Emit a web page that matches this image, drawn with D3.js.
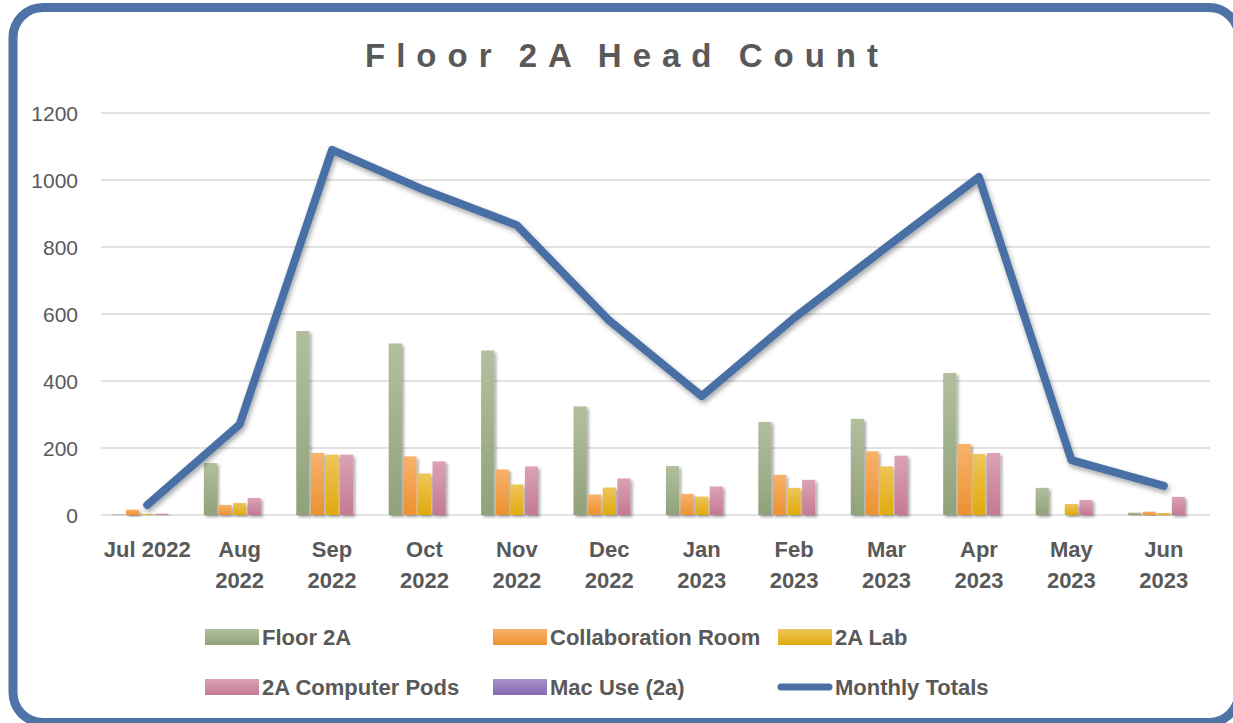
<!DOCTYPE html>
<html>
<head>
<meta charset="utf-8">
<script src="https://cdn.jsdelivr.net/npm/d3@7/dist/d3.min.js"></script>
<style>
  html, body { margin: 0; padding: 0; background: #ffffff; }
  svg { display: block; }
  text { font-family: "Liberation Sans", Arial, sans-serif; fill: #595959; }
</style>
</head>
<body>
<svg id="chart" width="1233" height="723"></svg>
<script>
// ---------------- data ----------------
const months = ["Jul 2022", "Aug 2022", "Sep 2022", "Oct 2022", "Nov 2022", "Dec 2022",
                "Jan 2023", "Feb 2023", "Mar 2023", "Apr 2023", "May 2023", "Jun 2023"];
const seriesNames = ["Floor 2A", "Collaboration Room", "2A Lab", "2A Computer Pods", "Mac Use (2a)"];
const floor2A       = [2, 155, 549, 512, 491, 324, 146, 278, 287, 424, 81, 7];
const collabRoom    = [16, 30, 185, 175, 136, 61, 63, 120, 190, 212, 0, 10];
const lab2A         = [3, 36, 180, 124, 91, 82, 55, 81, 145, 182, 33, 6];
const computerPods  = [4, 51, 180, 160, 145, 109, 85, 105, 177, 185, 45, 54];
const macUse        = [0, 0, 0, 0, 0, 0, 0, 0, 0, 0, 0, 0];
const monthlyTotals = [30, 270, 1090, 970, 865, 580, 355, 588, 800, 1009, 164, 87];
const yTicks = [0, 200, 400, 600, 800, 1000, 1200];
const lineName = "Monthly Totals";
const chartTitle = "Floor 2A Head Count";

const barSeries = [floor2A, collabRoom, lab2A, computerPods, macUse];
const colors = [
  ["#b2bf9e", "#90a27a"],
  ["#f8b26c", "#ec9130"],
  ["#eec55a", "#e0aa0c"],
  ["#dba3b3", "#c47993"],
  ["#a891cb", "#876ab0"]
];
const lineColor = "#4a70a5";

// ---------------- setup ----------------
const svg = d3.select("#chart");
const defs = svg.append("defs");

colors.forEach((c, i) => {
  const g = defs.append("linearGradient").attr("id", "grad" + i)
    .attr("x1", 0).attr("y1", 0).attr("x2", 0).attr("y2", 1);
  g.append("stop").attr("offset", "0%").attr("stop-color", c[0]);
  g.append("stop").attr("offset", "100%").attr("stop-color", c[1]);
});
const fs = defs.append("filter").attr("id", "shadow")
  .attr("x", "-50%").attr("y", "-20%").attr("width", "200%").attr("height", "140%");
fs.append("feDropShadow").attr("dx", 2).attr("dy", 2).attr("stdDeviation", 1.8)
  .attr("flood-color", "#000").attr("flood-opacity", 0.35);
const fl = defs.append("filter").attr("id", "lshadow")
  .attr("x", "-10%").attr("y", "-10%").attr("width", "120%").attr("height", "130%");
fl.append("feDropShadow").attr("dx", 1.5).attr("dy", 3).attr("stdDeviation", 2.5)
  .attr("flood-color", "#000").attr("flood-opacity", 0.35);

// border
svg.append("rect")
  .attr("x", 13).attr("y", 7.5).attr("width", 1226).attr("height", 715)
  .attr("rx", 30).attr("ry", 30)
  .attr("fill", "#fff").attr("stroke", "#4e73a6").attr("stroke-width", 9);

// title
svg.append("text")
  .attr("x", 627).attr("y", 67)
  .attr("text-anchor", "middle")
  .style("font-size", "33px").style("font-weight", "bold")
  .style("letter-spacing", "11px").style("word-spacing", "-4px")
  .attr("fill", "#575757")
  .text(chartTitle);

// scales
const plot = { left: 101, right: 1210, top: 113, bottom: 515 };
const x0 = d3.scaleBand().domain(months).range([plot.left, plot.right])
  .paddingInner(0.226).paddingOuter(0.113);
const x1 = d3.scaleBand().domain(seriesNames).range([0, x0.bandwidth()]).paddingInner(0.1);
const y = d3.scaleLinear().domain([0, 1200]).range([plot.bottom, plot.top]);
const xc = d3.scalePoint().domain(months).range([plot.left, plot.right]).padding(0.5);

// gridlines
svg.append("g").selectAll("line").data(yTicks).join("line")
  .attr("x1", plot.left).attr("x2", plot.right)
  .attr("y1", d => y(d)).attr("y2", d => y(d))
  .attr("stroke", "#d9d9d9").attr("stroke-width", 1.6);

// y axis labels
const yAxis = d3.axisLeft(y).tickValues(yTicks).tickSize(0).tickPadding(0)
  .tickFormat(d3.format("d"));
const yg = svg.append("g").attr("transform", `translate(${plot.left - 23},0)`).call(yAxis);
yg.select(".domain").remove();
yg.selectAll("text").style("font-size", "21px").attr("fill", "#595959")
  .style("font-family", "'Liberation Sans', Arial, sans-serif").attr("dy", "0.35em");

// bars
const groups = svg.append("g").selectAll("g").data(months).join("g")
  .attr("transform", d => `translate(${x0(d)},0)`);
groups.selectAll("rect")
  .data((m, mi) => barSeries.map((s, si) => ({ si, name: seriesNames[si], v: s[mi] })))
  .join("rect")
  .attr("x", d => x1(d.name))
  .attr("width", x1.bandwidth())
  .attr("y", d => y(d.v))
  .attr("height", d => y(0) - y(d.v))
  .attr("fill", d => `url(#grad${d.si})`)
  .attr("filter", "url(#shadow)");

// line
const line = d3.line().x((d, i) => xc(months[i])).y(d => y(d));
svg.append("path").datum(monthlyTotals)
  .attr("d", line)
  .attr("fill", "none").attr("stroke", lineColor).attr("stroke-width", 8)
  .attr("stroke-linejoin", "round").attr("stroke-linecap", "round")
  .attr("filter", "url(#lshadow)");

// x axis labels
const xg = svg.append("g");
months.forEach(m => {
  const parts = m === "Jul 2022" ? [m] : m.split(" ");
  const t = xg.append("text").attr("x", xc(m)).attr("y", 557)
    .attr("text-anchor", "middle")
    .style("font-size", "22px").style("font-weight", "bold");
  parts.forEach((p, i) => {
    t.append("tspan").attr("x", xc(m)).attr("dy", i === 0 ? 0 : 31).text(p);
  });
});

// legend
const legendItems = [
  { name: seriesNames[0], type: "bar", idx: 0, x: 205, y: 637 },
  { name: seriesNames[1], type: "bar", idx: 1, x: 493, y: 637 },
  { name: seriesNames[2], type: "bar", idx: 2, x: 778, y: 637 },
  { name: seriesNames[3], type: "bar", idx: 3, x: 205, y: 687 },
  { name: seriesNames[4], type: "bar", idx: 4, x: 493, y: 687 },
  { name: lineName, type: "line", x: 778, y: 687 }
];
const lg = svg.append("g");
legendItems.forEach(it => {
  if (it.type === "bar") {
    lg.append("rect").attr("x", it.x).attr("y", it.y - 8).attr("width", 54).attr("height", 16)
      .attr("fill", `url(#grad${it.idx})`);
  } else {
    lg.append("line").attr("x1", it.x + 3).attr("x2", it.x + 51)
      .attr("y1", it.y).attr("y2", it.y)
      .attr("stroke", lineColor).attr("stroke-width", 7).attr("stroke-linecap", "round");
  }
  lg.append("text").attr("x", it.x + 57).attr("y", it.y).attr("dy", "0.36em")
    .style("font-size", "22px").style("font-weight", "bold").text(it.name);
});
</script>
</body>
</html>
